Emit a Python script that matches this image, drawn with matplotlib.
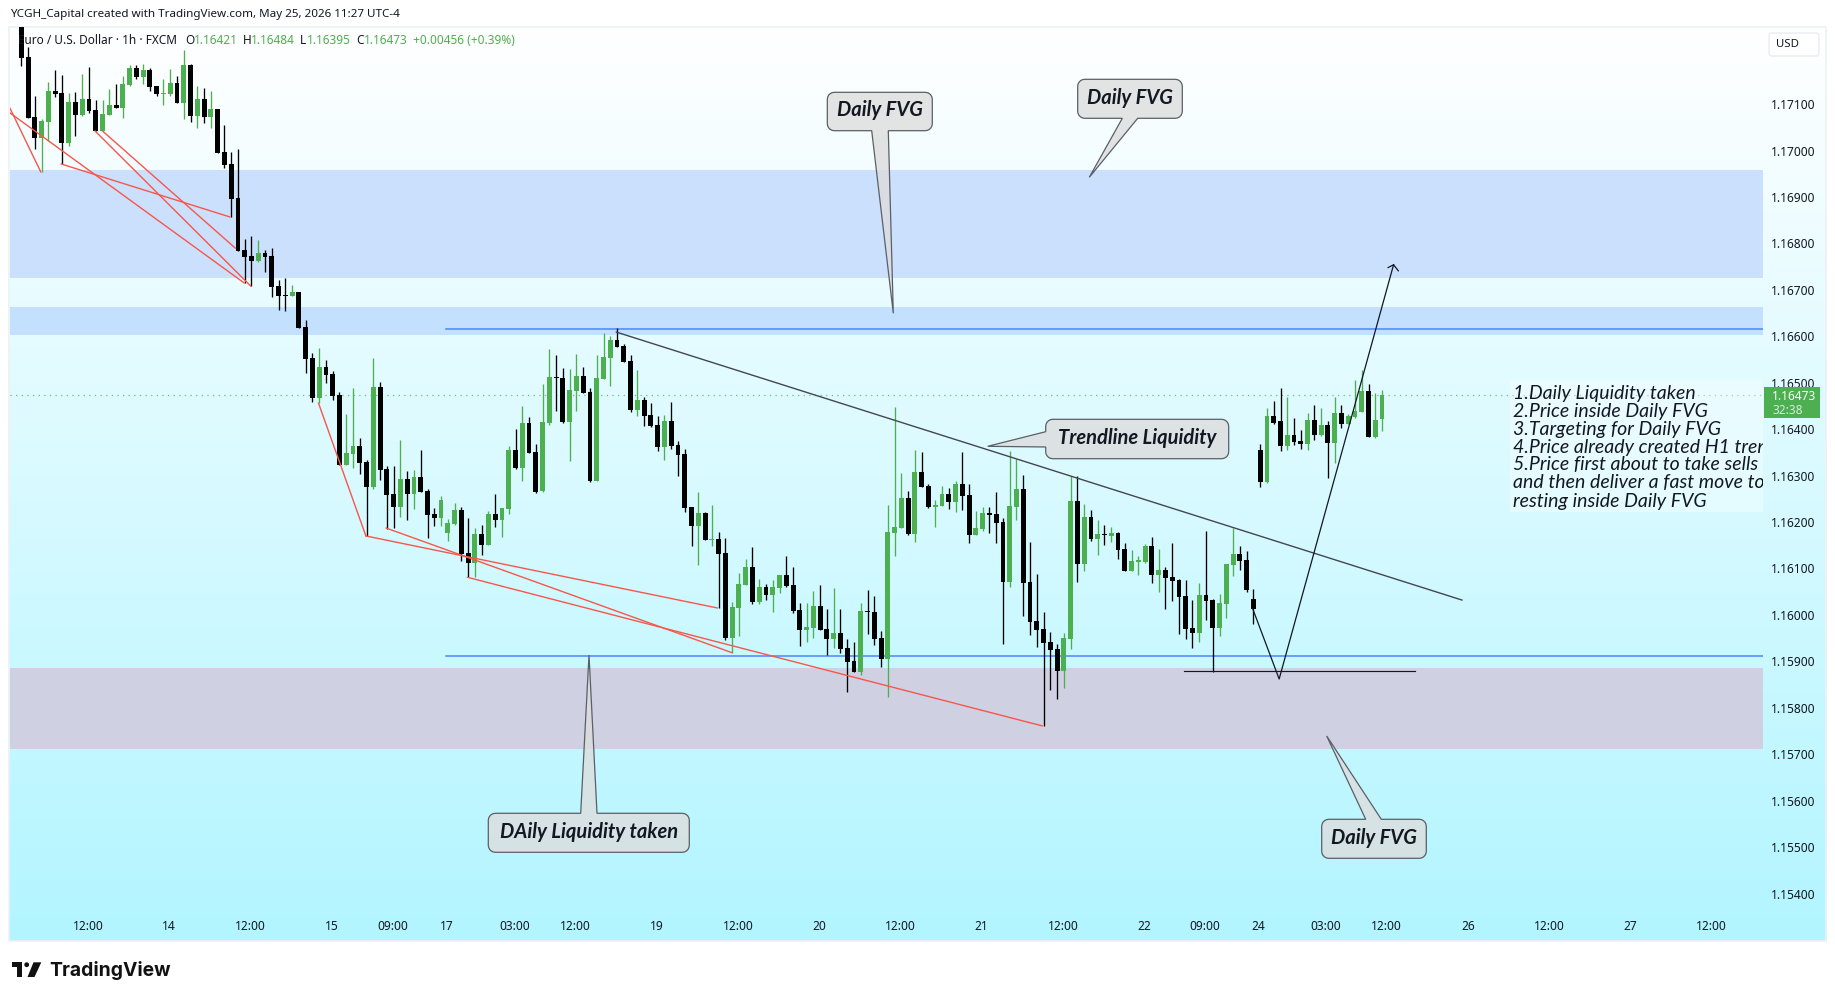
"""EUR/USD 1h chart with drawings, TradingView look"""

import matplotlib

matplotlib.use("Agg")
import matplotlib.pyplot as plt
import numpy as np
from matplotlib.patches import Circle, FancyBboxPatch, PathPatch, Polygon, Rectangle
from matplotlib.path import Path

W, H = 1835, 1000

# candles in price points (1e-5), left to right
highs = [
    117300, 117224, 117117, 117067, 117147, 117173, 117163, 117124, 117126, 117165,
    117180, 117109, 117109, 117132, 117143, 117160, 117185, 117184, 117186, 117178,
    117139, 117154, 117175, 117160, 117216, 117186, 117139, 117135, 117128, 117089,
    117055, 116997, 117003, 116809, 116816, 116807, 116786, 116790, 116721, 116725,
    116710, 116695, 116635, 116564, 116575, 116549, 116525, 116480, 116433, 116489,
    116381, 116334, 116553, 116501, 116321, 116321, 116377, 116310, 116312, 116355,
    116271, 116230, 116256, 116207, 116241, 116232, 116209, 116187, 116194, 116224,
    116260, 116230, 116364, 116400, 116450, 116426, 116368, 116497, 116573, 116560,
    116532, 116529, 116562, 116534, 116489, 116560, 116607, 116601, 116618, 116583,
    116560, 116527, 116469, 116456, 116428, 116430, 116458, 116374, 116357, 116232,
    116265, 116222, 116237, 116179, 116166, 116028, 116090, 116121, 116146, 116078,
    116067, 116075, 116086, 116127, 116103, 116026, 116026, 116052, 116065, 116013,
    116058, 116013, 115948, 115942, 116026, 116054, 116041, 115966, 116237, 116448,
    116306, 116267, 116355, 116351, 116282, 116248, 116278, 116274, 116289, 116351,
    116282, 116224, 116233, 116233, 116265, 116209, 116353, 116336, 116302, 116157,
    116088, 116007, 115963, 115938, 115961, 116299, 116299, 116239, 116226, 116205,
    116194, 116190, 116179, 116155, 116140, 116127, 116153, 116168, 116142, 116103,
    116154, 116077, 116075, 116032, 116068, 116180, 116034, 116045, 116109, 116187,
    116148, 116137, 116055, 116368, 116445, 116460, 116488, 116469, 116424, 116398,
    116434, 116452, 116445, 116417, 116469, 116452, 116432, 116505, 116527, 116497,
    116477, 116484,
]
lows = [
    117183, 117071, 117004, 116954, 117020, 117116, 116970, 117010, 117032, 117074,
    117081, 117043, 117042, 117076, 117092, 117070, 117140, 117154, 117143, 117128,
    117117, 117098, 117117, 117103, 117068, 117061, 117048, 117059, 117048, 116995,
    116962, 116857, 116784, 116715, 116708, 116760, 116738, 116685, 116657, 116654,
    116687, 116618, 116521, 116458, 116456, 116499, 116463, 116323, 116323, 116316,
    116303, 116170, 116271, 116290, 116185, 116187, 116211, 116204, 116228, 116265,
    116166, 116191, 116191, 116159, 116194, 116116, 116081, 116082, 116129, 116151,
    116189, 116168, 116217, 116314, 116288, 116349, 116262, 116265, 116409, 116439,
    116413, 116331, 116439, 116478, 116286, 116288, 116508, 116493, 116577, 116545,
    116437, 116428, 116407, 116405, 116353, 116334, 116357, 116299, 116222, 116148,
    116107, 116161, 116148, 116015, 115946, 115918, 115955, 116065, 116024, 116024,
    116032, 116007, 116047, 116060, 116004, 115933, 115942, 115951, 115968, 115914,
    115929, 115918, 115834, 115877, 115871, 115959, 115935, 115888, 115824, 116127,
    116187, 116172, 116157, 116276, 116230, 116190, 116235, 116228, 116222, 116226,
    116155, 116172, 116181, 116177, 116155, 115938, 116060, 116205, 115998, 115957,
    115931, 115761, 115839, 115819, 115843, 115927, 116071, 116095, 116159, 116129,
    116151, 116157, 116121, 116095, 116095, 116086, 116112, 116069, 116050, 116012,
    116030, 115959, 115948, 115928, 115941, 115989, 115878, 115954, 115993, 116083,
    116096, 116049, 115980, 116275, 116284, 116411, 116353, 116355, 116365, 116357,
    116355, 116376, 116385, 116294, 116327, 116402, 116411, 116424, 116436, 116383,
    116381, 116395,
]
opens = [
    117290, 117201, 117072, 117028, 117062, 117128, 117124, 117017, 117104, 117076,
    117111, 117087, 117043, 117077, 117098, 117092, 117141, 117178, 117158, 117173,
    117139, 117122, 117122, 117145, 117103, 117184, 117074, 117111, 117072, 117089,
    116997, 116971, 116898, 116786, 116773, 116762, 116779, 116773, 116708, 116689,
    116687, 116695, 116620, 116553, 116467, 116534, 116519, 116474, 116323, 116346,
    116364, 116329, 116275, 116491, 116314, 116260, 116232, 116293, 116260, 116297,
    116267, 116217, 116209, 116176, 116196, 116226, 116133, 116112, 116174, 116151,
    116217, 116204, 116228, 116355, 116316, 116413, 116351, 116267, 116413, 116512,
    116510, 116415, 116482, 116514, 116480, 116288, 116508, 116553, 116592, 116579,
    116547, 116441, 116463, 116430, 116409, 116362, 116418, 116366, 116346, 116232,
    116191, 116219, 116162, 116163, 116133, 115950, 116015, 116065, 116103, 116028,
    116060, 116043, 116058, 116086, 116065, 116011, 115968, 115972, 116019, 115970,
    115948, 115961, 115929, 115901, 115877, 116009, 116007, 115951, 115905, 116177,
    116187, 116252, 116174, 116308, 116278, 116233, 116235, 116261, 116243, 116282,
    116258, 116172, 116185, 116220, 116218, 116200, 116071, 116233, 116271, 116071,
    115987, 115970, 115942, 115927, 115880, 115948, 116246, 116110, 116211, 116164,
    116174, 116170, 116177, 116142, 116095, 116114, 116114, 116149, 116086, 116096,
    116081, 116075, 116040, 115971, 115961, 116042, 116032, 115971, 116023, 116107,
    116131, 116118, 116034, 116355, 116286, 116428, 116417, 116363, 116387, 116374,
    116368, 116419, 116387, 116409, 116370, 116434, 116411, 116426, 116436, 116482,
    116383, 116421,
]
closes = [
    117200, 117071, 117028, 117063, 117128, 117122, 117017, 117104, 117076, 117111,
    117085, 117043, 117079, 117098, 117092, 117143, 117178, 117158, 117173, 117137,
    117122, 117123, 117145, 117103, 117184, 117074, 117111, 117072, 117089, 116995,
    116969, 116896, 116784, 116771, 116762, 116779, 116771, 116706, 116687, 116687,
    116695, 116618, 116551, 116467, 116534, 116517, 116471, 116323, 116349, 116364,
    116327, 116275, 116491, 116312, 116258, 116232, 116293, 116260, 116297, 116265,
    116215, 116209, 116247, 116198, 116226, 116131, 116112, 116174, 116151, 116217,
    116204, 116230, 116355, 116316, 116413, 116349, 116265, 116415, 116512, 116510,
    116415, 116484, 116514, 116478, 116288, 116510, 116555, 116592, 116577, 116545,
    116441, 116463, 116428, 116407, 116362, 116418, 116364, 116344, 116230, 116191,
    116219, 116161, 116163, 116131, 115950, 116017, 116067, 116103, 116028, 116060,
    116043, 116060, 116086, 116062, 116009, 115968, 115974, 116019, 115968, 115948,
    115961, 115927, 115899, 115877, 116009, 116007, 115948, 115905, 116179, 116190,
    116252, 116174, 116308, 116276, 116233, 116237, 116261, 116243, 116282, 116256,
    116172, 116187, 116220, 116215, 116198, 116071, 116235, 116271, 116069, 115985,
    115968, 115940, 115925, 115880, 115951, 116246, 116110, 116211, 116164, 116174,
    116172, 116177, 116140, 116095, 116116, 116118, 116149, 116086, 116097, 116079,
    116073, 116038, 115969, 115961, 116042, 116030, 115971, 116025, 116109, 116131,
    116116, 116053, 116012, 116286, 116428, 116414, 116363, 116387, 116372, 116368,
    116419, 116387, 116409, 116370, 116434, 116411, 116428, 116439, 116482, 116383,
    116419, 116473,
]

# zones: (bottom, top, colour)
zones = [
    (116725, 116958, "#cbe0fd"),
    (116603, 116663, "#c3e0fe"),
    (115711, 115886, "#cfd0e2"),
]

# red zigzag drawings: (bar, price, bar, price)
red_lines = [
    (-1.67, 117091, 2.87, 116954),
    (-1.67, 117081, 32.9, 116715),
    (5.9, 116971, 30.8, 116857),
    (10.9, 117042, 33.9, 116708),
    (12.0, 117042, 31.6, 116790),
    (43.9, 116456, 50.9, 116170),
    (50.9, 116170, 102.8, 116015),
    (53.9, 116187, 104.9, 115919),
    (65.9, 116081, 150.8, 115761),
]
trend_bars = [87.9, 212.8]
trend_prices = [116609, 116032]
level_start = 62.7
level_prices = [116615, 115911]
sweep_bars = [171.7, 205.9]
sweep_price = 115879
path_bars = [181.9, 185.8, 202.7]
path_prices = [116013, 115862, 116754]
head_bars = [201.9, 202.7, 203.4]
head_prices = [116748, 116754, 116741]

price_ticks = [
    1.171, 1.170, 1.169, 1.168, 1.167, 1.166, 1.165, 1.164, 1.163,
    1.162, 1.161, 1.160, 1.159, 1.158, 1.157, 1.156, 1.155, 1.154,
]
time_ticks = [9.85, 21.85, 33.85, 45.85, 54.85, 62.85, 72.85, 81.85, 93.85, 105.85,
              117.85, 129.85, 141.85, 153.85, 165.85, 174.85, 182.7, 192.7, 201.7,
              213.7, 225.7, 237.7, 249.7]
time_labels = ["12:00", "14", "12:00", "15", "09:00", "17", "03:00", "12:00", "19", "12:00",
               "20", "12:00", "21", "12:00", "22", "09:00", "24", "03:00", "12:00", "26",
               "12:00", "27", "12:00"]

notes = [
    "1.Daily Liquidity taken",
    "2.Price inside Daily FVG",
    "3.Targeting for Daily FVG",
    "4.Price already created H1 trend",
    "5.Price first about to take sells",
    "and then deliver a fast move to",
    "resting inside Daily FVG",
]

GREEN = "#4caf50"
BLACK = "#000000"
RED = "#f8564b"
BLUE = "#4a86ff"
DARK = "#131722"
UI_FONT = ["Noto Sans", "DejaVu Sans"]
NOTE_FONT = ["Lato", "DejaVu Sans"]


def callout_path(box, side, base, tip, r=7):
    """Rounded box with a pointed tail, as a single closed outline (pixel coords)."""
    x0, y0, x1, y1 = box
    t = np.linspace(0, np.pi / 2, 6)
    pts = []

    def arc(cx, cy, start):
        for a in start + t:
            pts.append((cx + r * np.cos(a), cy + r * np.sin(a)))

    # goes top edge -> right -> bottom -> left, y pointing down
    arc(x0 + r, y0 + r, np.pi)
    if side == "top":
        pts += [(base[0], y0), tip, (base[1], y0)]
    arc(x1 - r, y0 + r, 1.5 * np.pi)
    arc(x1 - r, y1 - r, 0)
    if side == "bottom":
        pts += [(base[1], y1), tip, (base[0], y1)]
    arc(x0 + r, y1 - r, 0.5 * np.pi)
    if side == "left":
        pts += [(x0, base[1]), tip, (x0, base[0])]
    pts.append(pts[0])
    codes = [Path.MOVETO] + [Path.LINETO] * (len(pts) - 2) + [Path.CLOSEPOLY]
    return Path(pts, codes)


def add_callout(ov, label, box, side, base, tip):
    ov.add_patch(PathPatch(callout_path(box, side, base, tip), facecolor=(0.867, 0.867, 0.867, 0.8),
                           edgecolor="#5a5f68", lw=0.9, zorder=5))
    ov.text((box[0] + box[2]) / 2, (box[1] + box[3]) / 2 - 1, label, fontsize=14.5, family=NOTE_FONT,
            style="italic", weight="bold", color=DARK, ha="center", va="center", zorder=6)


def draw_chrome(bg):
    # gradient fond + thin frame
    grad = np.linspace(0, 1, 256)[:, None, None]
    top = np.array([1.0, 1.0, 1.0])
    bottom = np.array([0xb2, 0xf5, 0xff]) / 255
    bg.imshow(top + grad * (bottom - top), extent=(9, 1826, 941, 27), aspect="auto", zorder=0)
    bg.add_patch(Rectangle((9, 27), 1817, 914, fill=False, edgecolor="#eef1f5", lw=1.2, zorder=1))


def draw_chart(ax):
    x = np.arange(len(closes))
    o, h, l, c = [np.array(v) / 1e5 for v in (opens, highs, lows, closes)]
    colors = [GREEN if up else BLACK for up in c >= o]

    for lo, hi, col in zones:
        ax.axhspan(lo / 1e5, hi / 1e5, color=col, lw=0, zorder=1)
    ax.axhline(c[-1], color=GREEN, lw=0.9, ls=(0, (1, 3.5)), alpha=0.8, zorder=2)
    for p in level_prices:
        ax.plot([level_start, 300], [p / 1e5, p / 1e5], color=BLUE, lw=1.1, zorder=2)

    ax.vlines(x, l, h, colors=colors, lw=0.95, zorder=3)
    ax.bar(x, np.abs(c - o), bottom=np.minimum(o, c), width=0.72, color=colors, lw=0, zorder=3)

    for x0, p0, x1, p1 in red_lines:
        ax.plot([x0, x1], [p0 / 1e5, p1 / 1e5], color=RED, lw=1.0, zorder=4)
    ax.plot(trend_bars, np.array(trend_prices) / 1e5, color="#434651", lw=1.0, zorder=4)
    ax.plot(sweep_bars, [sweep_price / 1e5] * 2, color=DARK, lw=0.85, zorder=4)
    ax.plot(path_bars, np.array(path_prices) / 1e5, color=DARK, lw=0.9, zorder=4)
    ax.plot(head_bars, np.array(head_prices) / 1e5, color=DARK, lw=0.9, zorder=4)

    # pixel map: 46.45 px per 0.001, bar step 6.77 px
    ax.set_xlim(-1.67, 257.27)
    ax.set_ylim(1.15371, 1.17266)
    ax.set_facecolor("none")
    for s in ax.spines.values():
        s.set_visible(False)

    ax.yaxis.tick_right()
    ax.set_yticks(price_ticks)
    ax.set_yticklabels([f"{p:.5f}" for p in price_ticks], fontsize=8.6, color=DARK, family=UI_FONT)
    ax.tick_params(axis="y", length=0, pad=6)
    ax.set_xticks(time_ticks)
    ax.set_xticklabels(time_labels, fontsize=8.6, color=DARK, family=UI_FONT)
    ax.tick_params(axis="x", length=0, pad=9)
    for lab in ax.get_xticklabels():
        if ":" not in lab.get_text():
            lab.set_fontweight("bold")


def draw_overlay(ov, ax):
    ov.text(10, 15, "YCGH_Capital created with TradingView.com, May 25, 2026 11:27 UTC-4", fontsize=8.4,
            family=UI_FONT, color=DARK, va="center")

    # legend line
    legend_parts = [
        ("Euro / U.S. Dollar · 1h · FXCM", DARK, 18), ("O", DARK, 185), ("1.16421", GREEN, 194),
        ("H", DARK, 243), ("1.16484", GREEN, 251), ("L", DARK, 300), ("1.16395", GREEN, 307),
        ("C", DARK, 356), ("1.16473", GREEN, 364), ("+0.00456 (+0.39%)", GREEN, 413),
    ]
    for txt, col, xp in legend_parts:
        ov.text(xp, 41, txt, fontsize=8.5, family=UI_FONT, color=col, va="center", zorder=2)

    add_callout(ov, "Daily FVG", (827.3, 92.3, 932.3, 130.7), "bottom", (871.7, 888.3), (893.3, 313.3))
    add_callout(ov, "Daily FVG", (1077.7, 79.3, 1182.3, 118.3), "bottom", (1122.3, 1137.7), (1089.3, 177.3))
    add_callout(ov, "DAily Liquidity taken", (488.3, 813.3, 689.3, 852.3), "top", (580.7, 597), (589, 655))
    add_callout(ov, "Daily FVG", (1321.7, 819.3, 1426.3, 858.3), "top", (1365.7, 1381.3), (1326.7, 736))
    add_callout(ov, "Trendline Liquidity", (1045.7, 419.3, 1228.7, 458.7), "left", (431.7, 447), (987.7, 446.3))

    # notes panel, cut off at the price scale
    ax.add_patch(Rectangle((1510, 380), 253, 132, transform=ov.transData, facecolor="white",
                           alpha=0.35, lw=0, zorder=6))
    for i, line in enumerate(notes):
        ax.text(1513, 393 + i * 18, line, transform=ov.transData, fontsize=14, family=NOTE_FONT,
                style="italic", color=DARK, va="center", clip_on=True, zorder=7)

    # USD button + last price tag
    ov.add_patch(FancyBboxPatch((1769, 33), 50, 23, boxstyle="round,pad=0,rounding_size=3",
                                facecolor="white", edgecolor="#e9ecf0", lw=1))
    ov.text(1776, 44.5, "USD", fontsize=8.2, family=UI_FONT, color=DARK, va="center")
    ov.add_patch(Rectangle((1764, 387), 56, 31, facecolor=GREEN, lw=0, zorder=5))
    ov.text(1772, 396, "1.16473", fontsize=8.6, family=UI_FONT, weight="bold", color="white", va="center", zorder=6)
    ov.text(1772, 410, "32:38", fontsize=8.6, family=UI_FONT, color="#d5ecd6", va="center", zorder=6)

    # logo
    ov.add_patch(Polygon([(12, 962.3), (22, 962.3), (22, 977), (17, 977), (17, 967), (12, 967)], color="#111111", lw=0))
    ov.add_patch(Circle((26.7, 964.7), 2.4, color="#111111", lw=0))
    ov.add_patch(Polygon([(41.3, 962.3), (33.5, 962.3), (27.5, 977), (34.5, 977)], color="#111111", lw=0))
    ov.text(49, 975.5, "TradingView", fontsize=13.9, family=["Inter", "DejaVu Sans"], weight="bold", color="#111111")


def main():
    fig = plt.figure(figsize=(W / 100, H / 100), dpi=100, facecolor="white")

    bg = fig.add_axes([0, 0, 1, 1], zorder=0)
    bg.set_xlim(0, W)
    bg.set_ylim(H, 0)
    bg.axis("off")
    draw_chrome(bg)
    bg.set_xlim(0, W)
    bg.set_ylim(H, 0)

    ax = fig.add_axes([10 / W, 1 - 907 / H, 1753 / W, 880 / H], zorder=1)
    draw_chart(ax)

    ov = fig.add_axes([0, 0, 1, 1], zorder=2)
    ov.set_xlim(0, W)
    ov.set_ylim(H, 0)
    ov.axis("off")
    draw_overlay(ov, ax)

    fig.savefig("out.png", dpi=100)
    plt.close(fig)


if __name__ == "__main__":
    main()
